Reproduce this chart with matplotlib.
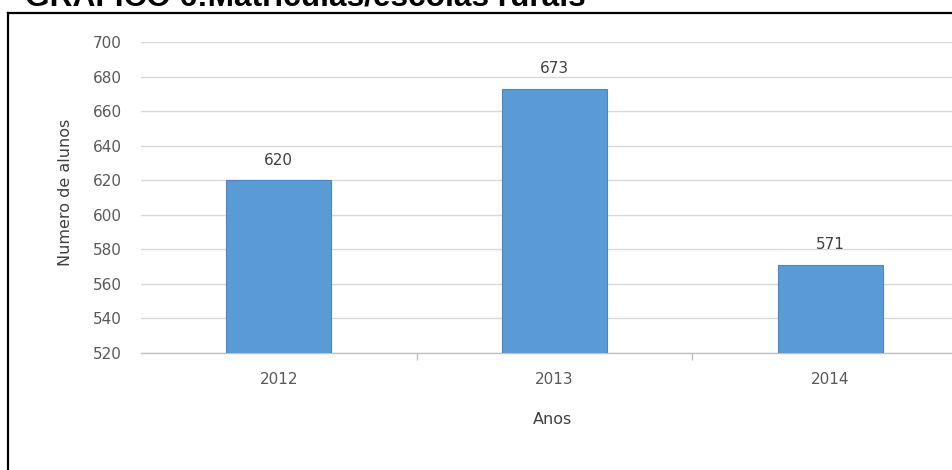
import matplotlib
matplotlib.use("Agg")
import matplotlib.pyplot as plt
from matplotlib.lines import Line2D

categories = ["2012", "2013", "2014"]
values = [620, 673, 571]
yticks = [520, 540, 560, 580, 600, 620, 640, 660, 680, 700]

W, H = 953, 470
fig = plt.figure(figsize=(W / 100, H / 100), dpi=100)

def fx(px):
    return px / W

def fy(py):
    return 1 - py / H

# plot area: y 700 at py 42, 520 at py 353; x from 141 to 968 (cropped on right)
ax = fig.add_axes([fx(141), fy(353), fx(968 - 141), (353 - 42) / H])
x = list(range(len(categories)))
ax.bar(x, values, width=0.38, color="#5B9BD5", edgecolor="#4A86C0", linewidth=0.8, zorder=3)
ax.set_xlim(-0.5, 2.5)
ax.set_ylim(520, 700)
ax.set_yticks(yticks)
ax.set_xticks(x)
ax.set_xticklabels(categories)
ax.grid(axis="y", color="#D9D9D9", linewidth=1.0, zorder=0)
for s in ["top", "right", "left"]:
    ax.spines[s].set_visible(False)
ax.spines["bottom"].set_color("#BFBFBF")
ax.spines["bottom"].set_linewidth(1.0)
ax.tick_params(axis="y", length=0, pad=14, labelsize=11, labelcolor="#595959")
ax.tick_params(axis="x", length=0, pad=14, labelsize=11, labelcolor="#595959")
# minor ticks between categories
ax.set_xticks([0.5, 1.5], minor=True)
ax.tick_params(axis="x", which="minor", length=5, color="#BFBFBF", width=1)

for xi, v in zip(x, values):
    ax.annotate(str(v), (xi, v), xytext=(0, 9), textcoords="offset points",
                ha="center", va="bottom", fontsize=11, color="#404040")

fig.text(fx(65), fy(192), "Numero de alunos", rotation=90, ha="center", va="center",
         fontsize=11.5, color="#404040")
fig.text(fx(553), fy(420), "Anos", ha="center", va="center", fontsize=11.5, color="#404040")

# title (cropped at top)
fig.text(fx(25), fy(5.7), "GRÁFICO 6:Matrículas/escolas rurais", ha="left", va="baseline",
         fontsize=22.8, fontweight="bold", family="Liberation Sans", color="black")

# frame lines
fig.add_artist(Line2D([fx(8), fx(W)], [fy(12.5), fy(12.5)], color="black", linewidth=1.6,
                      transform=fig.transFigure))
fig.add_artist(Line2D([fx(8), fx(8)], [fy(12.5), fy(H + 5)], color="black", linewidth=1.6,
                      transform=fig.transFigure))

fig.savefig("out.png", dpi=100)
